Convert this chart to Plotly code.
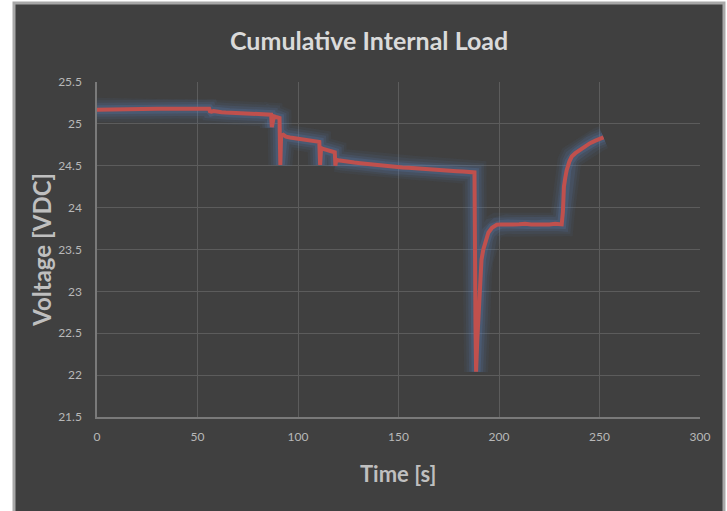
import plotly.graph_objects as go

# ---- data ----
time_s = [
    0, 3, 6, 9, 13, 18, 24, 30, 36, 42, 48, 53, 55.8,
    56.2, 57, 58, 60, 62, 64, 66, 68, 70, 72, 74, 76, 78, 80, 82, 84, 86, 86.6,
    87.0, 87.4, 88, 89, 90, 90.8,
    91.2, 91.6, 92.7, 94, 96, 98, 100, 102, 104, 106, 108, 110, 110.6,
    111.0, 111.5, 112.5, 114, 115.5, 117, 118.3,
    118.6, 119.0, 120, 122, 124, 126, 128, 131, 134, 137, 140, 143, 146, 149,
    152, 155, 158, 161, 164, 167, 170, 173, 176, 179, 182, 185, 187.8,
    188.3, 188.6, 189.2, 189.7, 190.5, 191.3, 192.2, 193.5, 194.7, 196.5, 198.9,
    201, 204, 207, 210, 213, 216, 219, 222, 225, 228, 231.2,
    231.8, 232.3, 233.0, 233.7, 235.0, 236.2, 238.0, 240.3, 243.0, 245.3, 248.0, 250.0, 252.0,
]
voltage_vdc = [
    25.168, 25.170, 25.172, 25.175, 25.180, 25.178, 25.181, 25.180, 25.182, 25.180, 25.181, 25.180, 25.180,
    25.150, 25.145, 25.152, 25.141, 25.140, 25.136, 25.133, 25.131, 25.130, 25.126, 25.124, 25.122, 25.121, 25.118, 25.117, 25.115, 25.112, 25.110,
    24.960, 25.060, 25.090, 25.082, 25.078, 25.070,
    24.510, 24.860, 24.870, 24.848, 24.838, 24.832, 24.822, 24.815, 24.810, 24.802, 24.796, 24.790, 24.785,
    24.510, 24.712, 24.700, 24.690, 24.678, 24.670, 24.660,
    24.500, 24.570, 24.565, 24.556, 24.548, 24.545, 24.538, 24.530, 24.522, 24.518, 24.510, 24.500, 24.495, 24.480,
    24.480, 24.476, 24.472, 24.468, 24.466, 24.460, 24.452, 24.447, 24.440, 24.435, 24.430, 24.425, 24.420,
    22.600, 22.040, 22.420, 22.670, 23.180, 23.380, 23.500, 23.620, 23.700, 23.760, 23.795,
    23.800, 23.805, 23.798, 23.802, 23.808, 23.800, 23.796, 23.804, 23.800, 23.806, 23.800,
    23.950, 24.250, 24.360, 24.450, 24.550, 24.610, 24.650, 24.690, 24.740, 24.770, 24.800, 24.820, 24.840,
]

x_ticks = [0, 50, 100, 150, 200, 250, 300]
y_ticks = [21.5, 22, 22.5, 23, 23.5, 24, 24.5, 25, 25.5]
y_tick_text = ["21.5", "22", "22.5", "23", "23.5", "24", "24.5", "25", "25.5"]

title_text = "Cumulative Internal Load"
x_title = "Time [s]"
y_title = "Voltage [VDC]"

# ---- layout geometry (pixels) ----
W, H = 727, 511
L, R, T, B = 97, 700, 82, 417.5
pw, ph = R - L, B - T

def px(xp):
    return (xp - L) / pw

def py(yp):
    return (B - yp) / ph

fig = go.Figure()

# soft glow layers beneath the main line
for width, alpha in [(24, 0.07), (19, 0.09), (14, 0.13), (9, 0.2)]:
    fig.add_trace(go.Scatter(
        x=time_s, y=voltage_vdc, mode="lines",
        line=dict(color=f"rgba(90,130,190,{alpha})", width=width),
        hoverinfo="skip", showlegend=False,
    ))

fig.add_trace(go.Scatter(
    x=time_s, y=voltage_vdc, mode="lines",
    line=dict(color="#C0504D", width=4),
    name="Voltage", showlegend=False,
))

tick_font = dict(family="Lato, Liberation Sans, sans-serif", size=12, color="#b8b8b8")

fig.update_layout(
    width=W, height=H,
    margin=dict(l=L, r=W - R, t=T, b=H - B, pad=0),
    paper_bgcolor="white",
    plot_bgcolor="#404040",
    showlegend=False,
    xaxis=dict(
        range=[0, 300], tickvals=x_ticks, ticktext=[str(v) for v in x_ticks],
        showgrid=True, gridcolor="#5c5c5c", gridwidth=1,
        showline=True, linecolor="#7a7a7a", linewidth=1.5,
        zeroline=False, ticks="", tickfont=tick_font, ticklabelstandoff=8,
    ),
    yaxis=dict(
        range=[21.5, 25.5], tickvals=y_ticks, ticktext=y_tick_text,
        showgrid=True, gridcolor="#5c5c5c", gridwidth=1,
        showline=True, linecolor="#7a7a7a", linewidth=1.5,
        zeroline=False, ticks="", tickfont=tick_font, ticklabelstandoff=11,
    ),
    shapes=[
        dict(type="rect", xref="paper", yref="paper", layer="below",
             x0=px(14), x1=px(724), y0=py(530), y1=py(3),
             fillcolor="#404040", line=dict(color="#a8a8a8", width=3)),
    ],
    annotations=[
        dict(text=title_text, xref="paper", yref="paper", x=px(369), y=py(40),
             xanchor="center", yanchor="middle", showarrow=False,
             font=dict(family="Lato, sans-serif", size=25, color="#dadada", weight="bold")),
        dict(text=x_title, xref="paper", yref="paper", x=px(398), y=py(474),
             xanchor="center", yanchor="middle", showarrow=False,
             font=dict(family="Lato, sans-serif", size=22, color="#bfbfbf", weight="bold")),
        dict(text=y_title, xref="paper", yref="paper", x=px(42), y=py(250),
             xanchor="center", yanchor="middle", showarrow=False, textangle=-90,
             font=dict(family="Lato, sans-serif", size=24, color="#bfbfbf", weight="bold")),
    ],
)

fig.write_html(
    "out.html",
    config={"displayModeBar": False},
    post_script="document.body.style.margin='0';document.body.style.overflow='hidden';",
)
